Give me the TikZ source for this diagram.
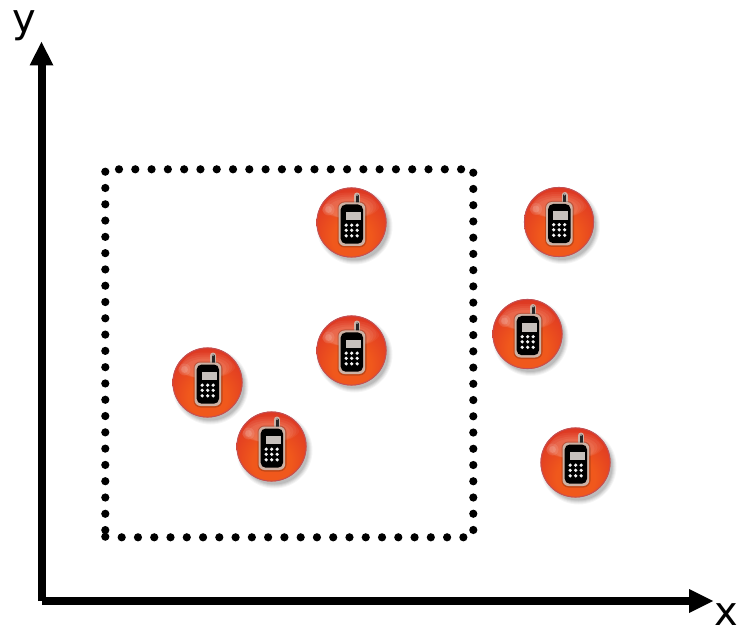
\documentclass[tikz,border=0pt]{standalone}
\usepackage{fontspec}
\setmainfont{DejaVu Sans}
\definecolor{ballorange}{RGB}{240,88,28}
\definecolor{ballmid}{RGB}{226,62,34}
\definecolor{ballred}{RGB}{206,44,38}
\definecolor{balledge}{RGB}{178,36,44}
\definecolor{phonerim}{RGB}{205,178,165}
\definecolor{phonescreen}{RGB}{198,192,188}
\pgfdeclareradialshading{ballbase}{\pgfpoint{0bp}{-14bp}}{
  color(0bp)=(ballorange);
  color(14bp)=(ballorange);
  color(28bp)=(ballmid);
  color(40bp)=(ballred);
  color(50bp)=(balledge);
  color(64bp)=(balledge)}
\tikzset{
  axisline/.style={line width=8pt,line cap=butt},
  axishead/.style={fill=black,draw=none},
  boxdot/.style={fill=black,draw=none},
  axislabel/.style={font=\fontsize{40}{40}\selectfont,inner sep=0pt,text=black},
  pics/phone/.style={code={
    % soft shadow
    \foreach \r/\o in {38/.04,37/.05,36/.06,35/.07,34/.08}{
      \fill[black,opacity=\o] (3,4) circle[radius=\r];
    }
    % ball
    \shade[shading=ballbase] (0,0) circle[radius=35];
    \draw[balledge!80!white,line width=.9pt] (0,0) circle[radius=34.6];
    % gloss
    \begin{scope}
      \clip (0,0) circle[radius=32];
      \foreach \k/\o in {0/.05,1/.05,2/.06,3/.06}{
        \fill[white,opacity=\o] (-2,{-17+\k}) ellipse[x radius={30-3*\k},y radius={13-\k}];
      }
      \fill[white,opacity=.10] (-23,-13) circle[radius=6];
      \fill[white,opacity=.14] (-23,-13) circle[radius=3.5];
    \end{scope}
    % phone
    \draw[line width=6pt,draw=phonerim,line cap=round] (5.5,-19) -- (5.5,-27);
    \draw[line width=3pt,draw=black!85,line cap=round] (5.5,-19) -- (5.5,-27);
    \fill[gray!70] (5.5,-27.5) circle[radius=1.2];
    \fill[black,opacity=.2,rounded corners=7pt] (-14,-21) rectangle (15,25);
    \fill[phonerim,rounded corners=6pt] (-13,-20) rectangle (13.7,23.5);
    \fill[black,rounded corners=5pt] (-10.8,-18) rectangle (11.5,21.2);
    \fill[phonescreen] (-6,-10.7) rectangle (9,-2.3);
    \foreach \kx in {-5.3,0.2,5.7}{
      \foreach \ky in {2.7,7.8,13.3}{
        \fill[white!92!gray] (\kx,\ky) circle[radius=1.8];
      }
    }
  }}
}
\begin{document}
\begin{tikzpicture}[x=1pt,y=-1pt]
\useasboundingbox (0,0) rectangle (739,628);
% dotted box
\foreach \i in {0,...,21}{
  \fill[boxdot] ({119+\i*16.29},169.3) circle[radius=4.1];
  \fill[boxdot] ({121.7+\i*16.27},537.3) circle[radius=4.1];
}
\foreach \i in {0,...,22}{
  \fill[boxdot] (105.3,{171.7+\i*16.29}) circle[radius=4.1];
  \fill[boxdot] (473.3,{172.7+\i*16.24}) circle[radius=4.1];
}
\fill[boxdot] (105.3,536.7) circle[radius=4.1];
% axes
\coordinate (ytip) at (41.5,42);
\coordinate (xtip) at (713,601);
\draw[axisline] (41.5,601) -- (41.5,64);
\draw[axisline] (41.5,601) -- (690,601);
\fill[axishead] (ytip) -- (29.5,65.5) -- (53.5,65.5) -- cycle;
\fill[axishead] (xtip) -- (689,589) -- (689,613) -- cycle;
\node[axislabel,anchor=base] (ylabel) at (24,33) {y};
\node[axislabel,anchor=base] (xlabel) at (726,625) {x};
% phones
\pic at (351.5,222.5) {phone};
\pic at (559,222) {phone};
\pic at (527.5,334) {phone};
\pic at (351.5,350.5) {phone};
\pic at (207.5,382.5) {phone};
\pic at (271.5,446.5) {phone};
\pic at (575.5,462.5) {phone};
\end{tikzpicture}
\end{document}
